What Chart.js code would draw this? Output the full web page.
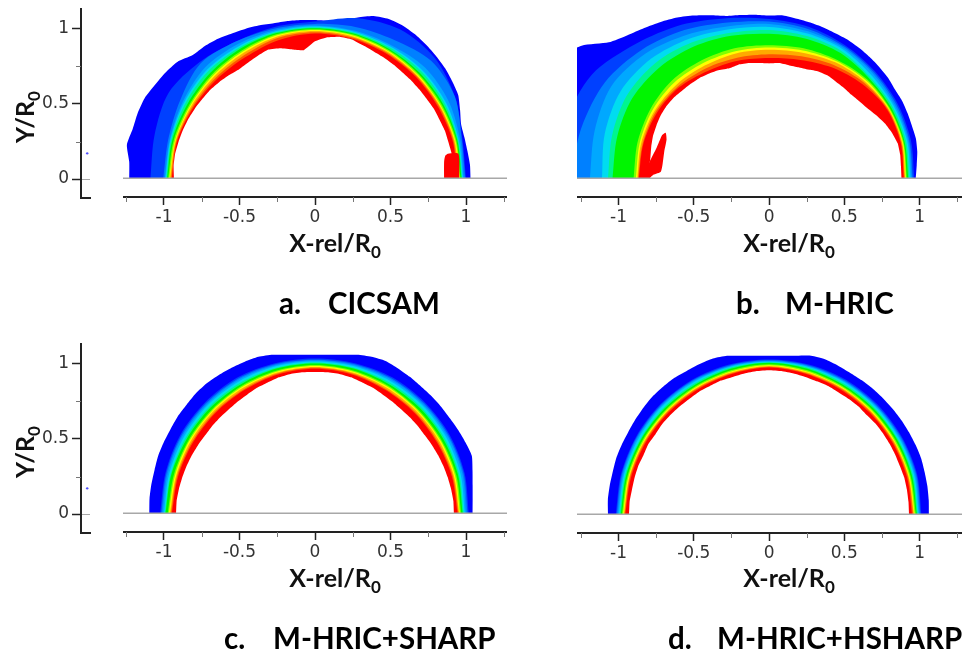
<!DOCTYPE html>
<html>
<head>
<meta charset="utf-8">
<title>Contours</title>
<script src="https://cdn.jsdelivr.net/npm/chart.js@4"></script>
<style>
html, body { margin: 0; padding: 0; background: #fff; }
#page { position: relative; width: 963px; height: 655px; overflow: hidden; filter: blur(0.45px); }
canvas { position: absolute; }
.xtitle, .ytitle, .caption { position: absolute; font-family: Lato, sans-serif; font-weight: 700; color: #111; white-space: nowrap; line-height: 1; }
.xtitle, .ytitle { font-size: 25px; }
.xtitle sub, .ytitle sub { font-size: 17px; line-height: 0; vertical-align: -6px; }
.ytitle { transform: translate(-50%, -50%) rotate(-90deg); }
.xtitle { transform: translate(-50%, -50%); }
.caption { font-size: 29.5px; color: #000; }
.caption b { display: inline-block; width: 49px; font-weight: 700; }
</style>
</head>
<body>
<div id="page"></div>
<script>
// angles of the read-off radii, left side of the arc to the right side
const thetaFine = [180,175,170,165,160,155,150,145,140,135,130,125,120,115,110,105,100,95,90,85,80,75,70,65,60,55,50,45,40,35,30,25,20,15,10,5,0];
const thetaCoarse = [180,165,150,135,120,105,90,75,60,45,30,15,0];

const xTicks = [-1, -0.5, 0, 0.5, 1];
const xMinorTicks = [-1.25, -0.75, -0.25, 0.25, 0.75, 1.25];
const yTicks = [0, 0.5, 1];
const yMinorTicks = [0.25, 0.75];
const yTickLabels = ['0', '0.5', '1'];
const xTickLabels = ['-1', '-0.5', '0', '0.5', '1'];
const baseY = 0.012; // grey line sits a bit above the y=0 tick

// outer blue to red
const bandColors = ['#0000ff','#0040ff','#0080ff','#00a8ff','#00dcf0','#00f590','#00f500','#80ff00','#ffff00','#ffaa00','#ff5500','#ff0000'];

// a. CICSAM
const aRim = [1.23,1.235,1.265,1.25,1.25,1.245,1.225,1.21,1.19,1.145,1.135,1.12,1.10,1.085,1.07,1.055,1.05,1.045,1.04,1.04,1.06,1.095,1.135,1.155,1.16,1.155,1.145,1.135,1.125,1.11,1.095,1.06,1.03,1.025,1.025,1.03,1.03];
const aBands = [
  [1.09,1.10,1.12,1.08,1.04,1.03,1.03,1.09,1.13,1.12,1.07,1.01,1.0],
  [1.005,1.005,1.03,1.07,1.04,1.02,1.015,1.03,1.05,1.09,1.07,1.005,.995],
  [.995,.995,1.01,1.03,1.02,1.01,1.005,1.005,1.01,1.03,1.02,.995,.985],
  [.99,.99,1.0,1.01,1.005,1.0,.998,.998,1.0,1.005,1.0,.985,.98],
  [.985,.985,.99,.998,.995,.995,.992,.992,.992,.995,.99,.98,.975],
  [.98,.978,.975,.98,.985,.988,.987,.986,.982,.98,.978,.975,.97],
  [.972,.968,.962,.965,.97,.98,.98,.978,.974,.97,.968,.968,.963],
  [.965,.96,.954,.955,.96,.973,.975,.972,.967,.963,.96,.962,.958],
  [.96,.955,.947,.945,.95,.965,.968,.965,.96,.956,.954,.956,.952],
  [.953,.95,.938,.932,.935,.955,.96,.958,.953,.95,.948,.95,.946],
  [.948,.945,.93,.92,.92,.94,.952,.95,.946,.943,.94,.944,.94]
];
const aHole = [.934,.94,.94,.935,.93,.925,.918,.91,.905,.895,.885,.875,.88,.89,.90,.885,.86,.845,.90,.93,.945,.945,.93,.92,.915,.91,.905,.905,.905,.905,.91,.91,.915,.915,.92,.92,.92];
const aBlobX = [.855,.855,.862,.88,.95,.955];
const aBlobY = [.012,.12,.158,.172,.172,.012];

// b. M-HRIC
const bRim = [1.6,1.6,1.6,1.6,1.6,1.6,1.6,1.52,1.39,1.33,1.29,1.255,1.22,1.18,1.14,1.105,1.09,1.08,1.07,1.075,1.065,1.06,1.055,1.05,1.05,1.045,1.04,1.035,1.03,1.02,1.02,1.015,1.01,1.01,1.0,.985,.975];
const bBands = [
  [1.40,1.40,1.36,1.25,1.165,1.09,1.047,1.03,1.01,.995,.985,.975,.965],
  [1.32,1.29,1.26,1.195,1.125,1.06,1.03,1.015,1.0,.985,.975,.965,.955],
  [1.19,1.20,1.21,1.16,1.09,1.035,1.015,1.0,.99,.975,.965,.958,.948],
  [1.11,1.13,1.14,1.11,1.06,1.015,.995,.985,.98,.96,.955,.95,.94],
  [1.07,1.08,1.09,1.07,1.03,.99,.975,.968,.965,.945,.945,.942,.932],
  [1.04,1.045,1.05,1.03,1.0,.97,.95,.95,.95,.935,.935,.932,.925],
  [.90,.905,.91,.91,.895,.885,.875,.885,.90,.92,.925,.925,.915],
  [.885,.89,.895,.89,.875,.865,.86,.87,.89,.91,.92,.92,.91],
  [.875,.88,.88,.87,.855,.85,.845,.855,.88,.90,.915,.915,.905],
  [.87,.87,.87,.855,.835,.82,.815,.83,.86,.89,.91,.91,.90],
  [.865,.865,.86,.845,.815,.80,.79,.805,.84,.875,.905,.905,.895]
];
const bHole = [.80,.80,.80,.81,.82,.825,.83,.83,.825,.815,.81,.805,.795,.785,.77,.775,.77,.76,.755,.76,.755,.755,.76,.775,.78,.775,.775,.775,.785,.80,.825,.85,.87,.885,.885,.88,.88];
const bBlobX = [-.836,-.792,-.747,-.71,-.687,-.681,-.696,-.718,-.769,-.792];
const bBlobY = [.012,.123,.212,.296,.311,.267,.189,.056,.034,.012];

// c. M-HRIC+SHARP
const cRim = [1.097,1.10,1.10,1.10,1.105,1.105,1.105,1.11,1.11,1.115,1.115,1.11,1.105,1.10,1.095,1.079,1.058,1.046,1.042,1.046,1.058,1.079,1.095,1.105,1.10,1.095,1.09,1.09,1.09,1.09,1.095,1.10,1.105,1.08,1.06,1.048,1.044];
const cBands = [
  [1.025,1.025,1.03,1.03,1.03,1.022,1.018,1.022,1.03,1.03,1.03,1.025,1.018],
  [1.018,1.018,1.022,1.022,1.022,1.015,1.01,1.015,1.022,1.022,1.022,1.018,1.01],
  [1.01,1.01,1.014,1.014,1.014,1.008,1.005,1.008,1.014,1.014,1.014,1.01,1.0],
  [1.0,1.0,1.003,1.005,1.003,1.0,.998,1.0,1.003,1.005,1.003,.998,.992],
  [.995,.99,.99,.99,.99,.99,.992,.99,.99,.99,.99,.988,.985],
  [.99,.985,.98,.98,.98,.985,.985,.985,.98,.98,.98,.98,.978],
  [.975,.968,.965,.965,.968,.972,.975,.972,.968,.965,.965,.968,.968],
  [.968,.96,.958,.958,.96,.965,.968,.965,.96,.958,.958,.96,.96],
  [.96,.952,.95,.95,.952,.958,.962,.958,.952,.95,.95,.952,.955],
  [.954,.945,.94,.94,.942,.952,.956,.952,.942,.94,.94,.945,.95],
  [.948,.938,.932,.932,.935,.945,.95,.945,.935,.932,.932,.938,.944]
];
const cHole = [.92,.92,.915,.91,.905,.90,.895,.89,.89,.89,.89,.895,.90,.91,.915,.925,.93,.93,.928,.93,.93,.925,.915,.91,.90,.895,.89,.89,.89,.89,.895,.90,.905,.91,.915,.92,.92];

// d. M-HRIC+HSHARP
const dRim = [1.07,1.075,1.075,1.075,1.08,1.08,1.08,1.085,1.09,1.095,1.095,1.095,1.09,1.09,1.09,1.079,1.058,1.046,1.042,1.046,1.058,1.079,1.085,1.08,1.075,1.075,1.075,1.075,1.075,1.075,1.075,1.075,1.075,1.07,1.068,1.065,1.062];
const dBands = [
  [1.018,1.018,1.02,1.022,1.022,1.02,1.018,1.02,1.022,1.02,1.018,1.018,1.012],
  [1.012,1.012,1.014,1.016,1.016,1.013,1.012,1.013,1.014,1.012,1.012,1.012,1.006],
  [1.005,1.005,1.008,1.01,1.01,1.008,1.007,1.008,1.008,1.006,1.005,1.005,1.0],
  [.998,.998,1.0,1.003,1.003,1.003,1.002,1.003,1.002,1.0,.998,.998,.994],
  [.992,.99,.988,.99,.992,.998,.998,.998,.992,.99,.988,.99,.988],
  [.985,.983,.982,.982,.983,.99,.997,.99,.983,.982,.982,.983,.982],
  [.977,.973,.971,.971,.973,.98,.987,.98,.973,.971,.971,.973,.975],
  [.97,.966,.964,.964,.966,.972,.98,.972,.966,.964,.964,.966,.968],
  [.965,.96,.958,.958,.96,.966,.975,.966,.96,.958,.958,.96,.963],
  [.96,.955,.952,.952,.955,.96,.97,.96,.955,.952,.952,.955,.958],
  [.955,.948,.945,.945,.948,.955,.965,.955,.948,.945,.945,.948,.95]
];
const dHole = [.93,.93,.925,.925,.925,.92,.925,.92,.925,.925,.925,.925,.93,.93,.935,.935,.94,.945,.947,.945,.94,.935,.93,.93,.925,.925,.925,.92,.925,.925,.925,.925,.925,.93,.93,.93,.93];

// short ticks are not something an axis can do by itself
const minorTicksPlugin = {
  id: 'minorTicks',
  afterDraw(chart, args, opts) {
    const ctx = chart.ctx;
    ctx.save();
    ctx.strokeStyle = '#777';
    ctx.lineWidth = 1;
    ctx.beginPath();
    if (opts.x) {
      const sx = chart.scales.x;
      opts.x.forEach(v => {
        const px = Math.round(sx.getPixelForValue(v)) + 0.5;
        ctx.moveTo(px, sx.top);
        ctx.lineTo(px, sx.top + 5);
      });
    }
    if (opts.y) {
      const sy = chart.scales.y;
      opts.y.forEach(v => {
        const py = Math.round(sy.getPixelForValue(v)) + 0.5;
        ctx.moveTo(sy.right, py);
        ctx.lineTo(sy.right - 5, py);
      });
    }
    ctx.stroke();
    ctx.restore();
  }
};

const page = document.getElementById('page');

function addCanvas(left, top, width, height) {
  const c = document.createElement('canvas');
  c.width = width;
  c.height = height;
  c.style.left = left + 'px';
  c.style.top = top + 'px';
  page.appendChild(c);
  return c.getContext('2d');
}

function addText(cls, left, top, html) {
  const d = document.createElement('div');
  d.className = cls;
  d.style.left = left + 'px';
  d.style.top = top + 'px';
  d.innerHTML = html;
  page.appendChild(d);
}

function arcPoints(radii, thetas) {
  return radii.map((r, i) => {
    const t = thetas[i] * Math.PI / 180;
    return { x: r * Math.cos(t), y: baseY + r * Math.sin(t) };
  });
}

function shape(label, points, color, order, tension) {
  return {
    label: label,
    data: points,
    showLine: true,
    fill: 'shape',
    backgroundColor: color,
    borderWidth: 0,
    pointRadius: 0,
    tension: tension,
    order: order
  };
}

// one contour plot: rim, colour bands, white hole, optional stray blob, grey line
function drawPlot(left, top, width, xMin, xMax, rim, bands, hole, blobX, blobY) {
  const datasets = [];
  datasets.push(shape('rim', arcPoints(rim, thetaFine), bandColors[0], 50, 0.2));
  bands.forEach((b, i) => {
    datasets.push(shape('band' + (i + 1), arcPoints(b, thetaCoarse), bandColors[i + 1], 40 - i, 0.3));
  });
  datasets.push(shape('hole', arcPoints(hole, thetaFine), '#ffffff', 10, 0.1));
  if (blobX) {
    datasets.push(shape('blob', blobX.map((x, i) => ({ x: x, y: blobY[i] })), '#ff0000', 5, 0.2));
  }
  datasets.push({
    label: 'line',
    data: [{ x: xMin, y: baseY }, { x: xMax, y: baseY }],
    showLine: true,
    borderColor: '#a8a8a8',
    borderWidth: 1.5,
    pointRadius: 0,
    order: 1
  });

  new Chart(addCanvas(left, top, width, 222), {
    type: 'scatter',
    data: { datasets: datasets },
    plugins: [minorTicksPlugin],
    options: {
      responsive: false,
      animation: false,
      layout: { padding: 0 },
      plugins: {
        legend: { display: false },
        tooltip: { enabled: false },
        minorTicks: { x: xMinorTicks }
      },
      scales: {
        x: {
          type: 'linear',
          min: xMin,
          max: xMax,
          afterBuildTicks: s => { s.ticks = xTicks.map(v => ({ value: v })); },
          afterFit: s => { s.height = 33; },
          border: { color: '#222', width: 2 },
          grid: { drawOnChartArea: false, tickLength: 8, tickColor: '#222', tickWidth: 1.5 },
          ticks: {
            color: '#333',
            padding: 2,
            maxRotation: 0,
            font: { family: 'DejaVu Sans', size: 17 },
            callback: (v, i) => xTickLabels[i]
          }
        },
        y: { type: 'linear', display: false, min: -0.112, max: 1.1316 }
      }
    }
  });
}

// left axis piece of the figure, it is a separate bit in the original
function drawYAxis(top) {
  new Chart(addCanvas(0, top - 12, 94, 215), {
    type: 'scatter',
    data: {
      datasets: [{
        label: 'dot',
        data: [{ x: 0.69, y: 0.171 }],
        pointRadius: 1.2,
        backgroundColor: '#5050ff',
        borderWidth: 0
      }]
    },
    plugins: [minorTicksPlugin],
    options: {
      responsive: false,
      animation: false,
      layout: { padding: { top: 12, bottom: 12 } },
      plugins: {
        legend: { display: false },
        tooltip: { enabled: false },
        minorTicks: { y: yMinorTicks }
      },
      scales: {
        x: {
          type: 'linear',
          min: 0,
          max: 1,
          afterFit: s => { s.height = 0; },
          border: { color: '#222', width: 2 },
          grid: { display: false },
          ticks: { display: false }
        },
        y: {
          type: 'linear',
          min: -0.125,
          max: 1.1316,
          afterBuildTicks: s => { s.ticks = yTicks.map(v => ({ value: v })); },
          afterFit: s => { s.width = 81; },
          border: { color: '#222', width: 2 },
          grid: {
            tickLength: 9,
            tickColor: '#222',
            tickWidth: 1.5,
            lineWidth: 1,
            color: c => (c.tick && c.tick.value === 0 ? '#a8a8a8' : 'rgba(0,0,0,0)')
          },
          ticks: {
            color: '#333',
            padding: 3,
            font: { family: 'DejaVu Sans', size: 17 },
            callback: (v, i) => yTickLabels[i]
          }
        }
      }
    }
  });
}

drawYAxis(8);
drawYAxis(343);
drawPlot(123, 8, 384, -1.2715, 1.2715, aRim, aBands, aHole, aBlobX, aBlobY);
drawPlot(577, 8, 385, -1.276, 1.282, bRim, bBands, bHole, bBlobX, bBlobY);
drawPlot(123, 343, 384, -1.2715, 1.2715, cRim, cBands, cHole);
drawPlot(577, 344, 385, -1.276, 1.282, dRim, dBands, dHole);

const xTitle = 'X-rel/R<sub>0</sub>';
const yTitle = 'Y/R<sub>0</sub>';
addText('xtitle', 335, 242, xTitle);
addText('xtitle', 789, 242, xTitle);
addText('xtitle', 335, 577, xTitle);
addText('xtitle', 789, 577, xTitle);
addText('ytitle', 24, 117, yTitle);
addText('ytitle', 24, 452, yTitle);

addText('caption', 279, 288, '<b>a.</b>CICSAM');
addText('caption', 736, 288, '<b>b.</b>M-HRIC');
addText('caption', 224, 623, '<b>c.</b>M-HRIC+SHARP');
addText('caption', 668, 623, '<b>d.</b>M-HRIC+HSHARP');
</script>
</body>
</html>
